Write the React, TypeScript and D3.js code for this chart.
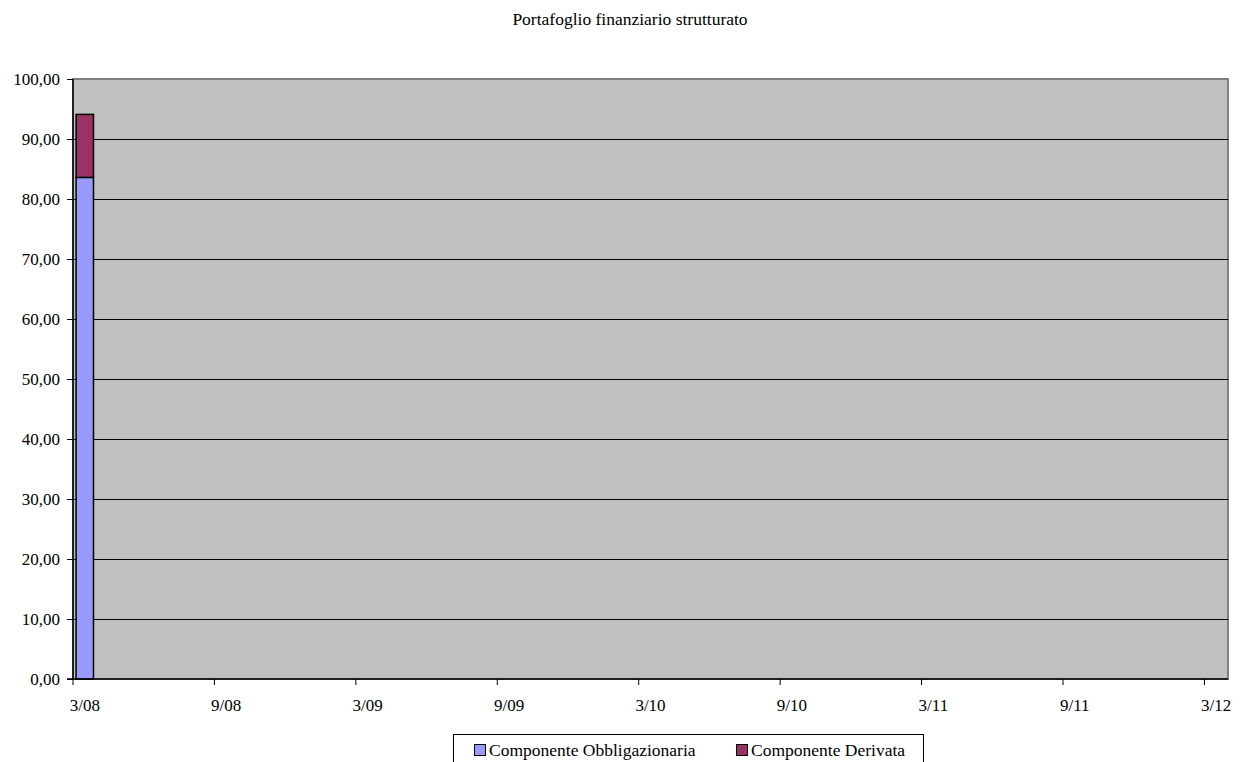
import React from "react";
import * as d3 from "d3";

const title = "Portafoglio finanziario strutturato";
const seriesNames = ["Componente Obbligazionaria", "Componente Derivata"];
const seriesColors = ["#9999FF", "#993366"];
const barDates = ["2008-03"];
const obbligazionaria = [83.6];
const derivata = [10.5];
const axisStart = "2008-03";
const axisEnd = "2012-03";
const yTicks = [0, 10, 20, 30, 40, 50, 60, 70, 80, 90, 100];
const xTickLabels = ["3/08", "9/08", "3/09", "9/09", "3/10", "9/10", "3/11", "9/11", "3/12"];

const W = 1243, H = 762;
const M = { left: 73, right: 1228, top: 79, bottom: 679 };
const FONT = "'Liberation Serif', 'Times New Roman', serif";

export default function App() {
  const parse = d3.timeParse("%Y-%m");
  const fmtKey = d3.timeFormat("%Y-%m");
  const start = parse(axisStart)!;
  const end = parse(axisEnd)!;
  const months = d3.timeMonth.range(start, d3.timeMonth.offset(end, 1)).map(fmtKey);
  const x = d3.scaleBand<string>().domain(months).range([M.left, M.right]);
  const slotW = x.step();
  const slot = (k: string) => x(k)!;
  const y = d3.scaleLinear().domain([0, 100]).range([M.bottom, M.top]);
  const tickKeys = months.filter((_, i) => i % 6 === 0);
  const fmtY = (v: number) => d3.format(".2f")(v).replace(".", ",");
  const barW = slotW * 0.78;

  return (
    <svg width={W} height={H} style={{ position: "absolute", left: 0, top: 0, background: "#fff" }}>
      <text x={630} y={25} textAnchor="middle" fontFamily={FONT} fontSize={17.5} fill="#000">{title}</text>
      <rect x={M.left} y={M.top} width={M.right - M.left} height={M.bottom - M.top} fill="#C0C0C0" stroke="#808080" strokeWidth={2} />
      {yTicks.map((t) => (
        <g key={t}>
          {t > 0 && t < 100 && (
            <line x1={M.left} x2={M.right} y1={y(t) + 0.5} y2={y(t) + 0.5} stroke="#000" strokeWidth={1} />
          )}
          <line x1={M.left - 6} x2={M.left} y1={y(t) + 0.5} y2={y(t) + 0.5} stroke="#000" />
          <text x={M.left - 13} y={y(t)} dy="0.35em" textAnchor="end" fontFamily={FONT} fontSize={17} fill="#000">{fmtY(t)}</text>
        </g>
      ))}
      {barDates.map((d, i) => {
        const cx = slot(d) + slotW / 2;
        const bx = cx - barW / 2 + 0.5;
        return (
          <g key={d}>
            <rect x={bx} y={y(obbligazionaria[i])} width={barW - 1} height={y(0) - y(obbligazionaria[i])} fill={seriesColors[0]} stroke="#000" strokeWidth={1.5} />
            <rect x={bx} y={y(obbligazionaria[i] + derivata[i])} width={barW - 1} height={y(obbligazionaria[i]) - y(obbligazionaria[i] + derivata[i])} fill={seriesColors[1]} stroke="#000" strokeWidth={1.5} />
          </g>
        );
      })}
      <line x1={M.left} x2={M.left} y1={M.top} y2={M.bottom} stroke="#000" strokeWidth={1.5} />
      <line x1={M.left - 6} x2={M.right} y1={M.bottom} y2={M.bottom} stroke="#000" strokeWidth={1.5} />
      {tickKeys.map((k, i) => (
        <g key={k}>
          <line x1={slot(k)} x2={slot(k)} y1={M.bottom} y2={M.bottom + 6} stroke="#000" />
          <text x={slot(k) + slotW / 2} y={M.bottom + 32} textAnchor="middle" fontFamily={FONT} fontSize={17} fill="#000">{xTickLabels[i]}</text>
        </g>
      ))}
      <rect x={453.5} y={734.5} width={470} height={40} fill="#fff" stroke="#000" strokeWidth={1} />
      <rect x={474.5} y={744.5} width={11} height={11} fill={seriesColors[0]} stroke="#000" strokeWidth={1} />
      <text x={489} y={755.5} fontFamily={FONT} fontSize={17.5} fill="#000">{seriesNames[0]}</text>
      <rect x={736.5} y={744.5} width={11} height={11} fill={seriesColors[1]} stroke="#000" strokeWidth={1} />
      <text x={751} y={755.5} fontFamily={FONT} fontSize={17.5} fill="#000">{seriesNames[1]}</text>
    </svg>
  );
}
